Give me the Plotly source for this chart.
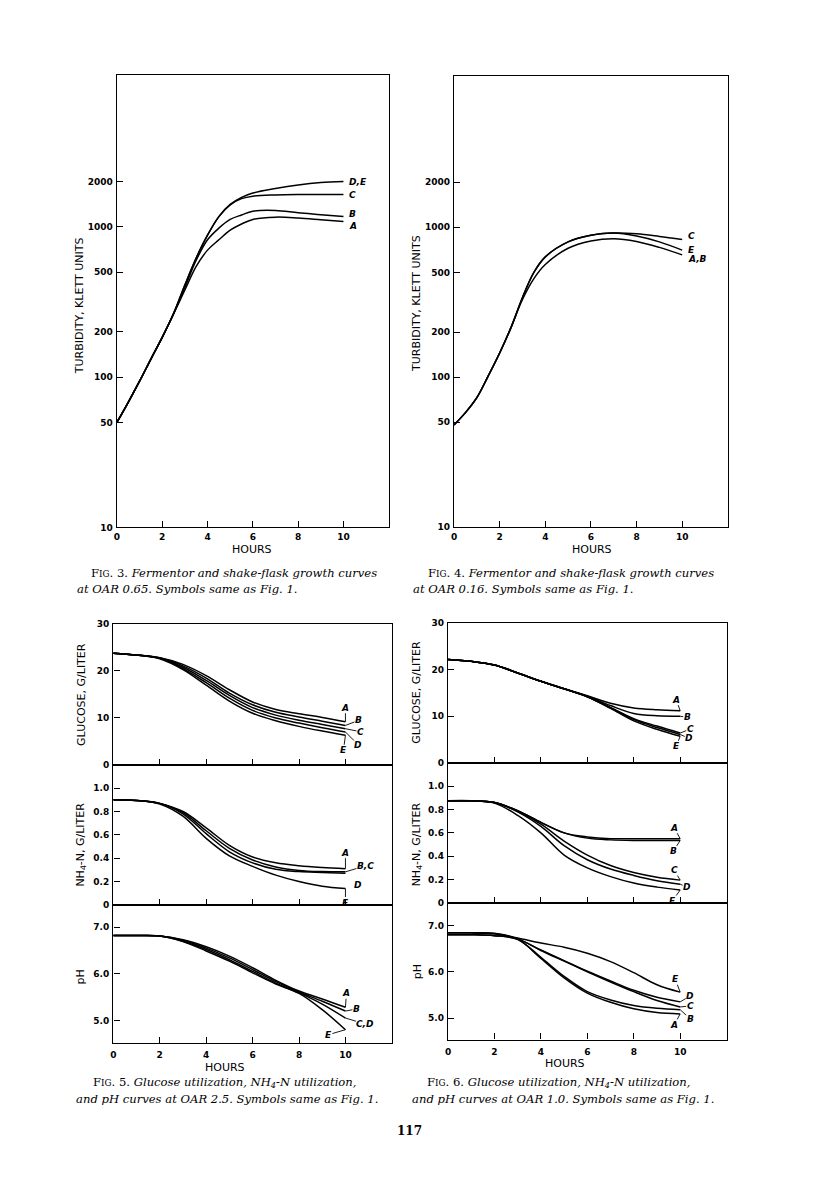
import math
import plotly.graph_objects as go

W, H = 816, 1193
OX, OY = 8, 8           # default body margin of the html page
FW, FH = W - 2 * OX, H - 2 * OY

# ---------------- data ----------------
# Fig. 3 turbidity (Klett units), OAR 0.65
f3_hours = [0, 0.5, 1, 1.5, 2, 2.5, 3, 3.5, 4, 4.5, 5, 5.5, 6, 7, 8, 9, 10]
f3_A = [50, 68, 94, 132, 184, 263, 380, 545, 700, 820, 950, 1045, 1120, 1160, 1145, 1115, 1085]
f3_B = [50, 68, 94, 132, 184, 263, 395, 600, 820, 980, 1120, 1200, 1270, 1285, 1240, 1205, 1170]
f3_C = [50, 68, 94, 132, 184, 265, 410, 620, 880, 1170, 1400, 1540, 1600, 1630, 1640, 1640, 1640]
f3_DE = [50, 68, 94, 132, 184, 265, 410, 620, 880, 1170, 1410, 1570, 1680, 1800, 1900, 1970, 2000]

# Fig. 4 turbidity, OAR 0.16
f4_hours = [0, 0.5, 1, 1.5, 2, 2.5, 3, 3.5, 4, 5, 6, 7, 8, 9, 10]
f4_C = [48, 58, 73, 102, 145, 215, 340, 500, 635, 800, 885, 915, 905, 870, 830]
f4_E = [48, 58, 73, 102, 145, 215, 340, 500, 635, 800, 885, 915, 875, 800, 705]
f4_AB = [48, 58, 73, 102, 145, 215, 330, 455, 565, 725, 810, 840, 805, 735, 655]

hours = [0, 1, 2, 3, 4, 5, 6, 7, 8, 9, 10]

# Fig. 5 (OAR 2.5)
f5_glu_A = [23.8, 23.4, 22.8, 21.4, 19.0, 16.0, 13.4, 11.8, 10.9, 10.1, 9.2]
f5_glu_B = [23.8, 23.4, 22.8, 21.1, 18.5, 15.3, 12.8, 11.2, 10.2, 9.3, 8.4]
f5_glu_C = [23.8, 23.4, 22.7, 20.8, 18.0, 14.8, 12.2, 10.6, 9.5, 8.6, 7.7]
f5_glu_D = [23.8, 23.4, 22.7, 20.5, 17.5, 14.2, 11.6, 10.0, 8.9, 7.9, 7.0]
f5_glu_E = [23.8, 23.4, 22.6, 20.3, 17.0, 13.6, 11.0, 9.4, 8.2, 7.2, 6.3]

f5_nh4_A = [0.90, 0.895, 0.87, 0.80, 0.66, 0.51, 0.41, 0.36, 0.335, 0.32, 0.31]
f5_nh4_BC = [0.90, 0.895, 0.87, 0.79, 0.635, 0.485, 0.385, 0.325, 0.295, 0.285, 0.283]
f5_nh4_D = [0.90, 0.895, 0.87, 0.78, 0.61, 0.455, 0.36, 0.305, 0.285, 0.278, 0.272]
f5_nh4_E = [0.90, 0.895, 0.865, 0.76, 0.57, 0.42, 0.33, 0.255, 0.20, 0.16, 0.14]

f5_ph_A = [6.82, 6.82, 6.81, 6.73, 6.58, 6.38, 6.13, 5.86, 5.63, 5.46, 5.28]
f5_ph_B = [6.82, 6.82, 6.81, 6.72, 6.55, 6.34, 6.09, 5.83, 5.61, 5.41, 5.20]
f5_ph_CD = [6.82, 6.82, 6.81, 6.70, 6.52, 6.30, 6.05, 5.80, 5.59, 5.35, 5.05]
f5_ph_E = [6.82, 6.82, 6.81, 6.69, 6.49, 6.27, 6.02, 5.78, 5.58, 5.23, 4.80]

# Fig. 6 (OAR 1.0)
f6_glu_A = [22.2, 21.8, 21.0, 19.3, 17.5, 15.9, 14.4, 12.8, 11.8, 11.4, 11.2]
f6_glu_B = [22.2, 21.8, 21.0, 19.3, 17.5, 15.9, 14.3, 12.3, 10.6, 10.1, 10.0]
f6_glu_C = [22.2, 21.8, 21.0, 19.3, 17.5, 15.9, 14.2, 11.9, 9.5, 7.9, 6.4]
f6_glu_D = [22.2, 21.8, 21.0, 19.3, 17.5, 15.9, 14.2, 11.8, 9.3, 7.6, 6.1]
f6_glu_E = [22.2, 21.8, 21.0, 19.3, 17.5, 15.9, 14.2, 11.7, 9.0, 7.2, 5.7]

f6_nh4_A = [0.875, 0.875, 0.86, 0.79, 0.69, 0.60, 0.565, 0.55, 0.55, 0.55, 0.55]
f6_nh4_B = [0.875, 0.875, 0.86, 0.79, 0.69, 0.60, 0.555, 0.54, 0.535, 0.535, 0.535]
f6_nh4_C = [0.875, 0.875, 0.86, 0.785, 0.675, 0.53, 0.41, 0.32, 0.26, 0.22, 0.195]
f6_nh4_D = [0.875, 0.875, 0.86, 0.78, 0.655, 0.49, 0.37, 0.29, 0.235, 0.19, 0.16]
f6_nh4_E = [0.875, 0.875, 0.855, 0.75, 0.60, 0.41, 0.30, 0.225, 0.17, 0.135, 0.11]

f6_ph_A = [6.80, 6.80, 6.78, 6.70, 6.29, 5.87, 5.54, 5.34, 5.20, 5.12, 5.09]
f6_ph_B = [6.80, 6.80, 6.78, 6.70, 6.31, 5.90, 5.57, 5.39, 5.27, 5.21, 5.18]
f6_ph_C = [6.84, 6.84, 6.82, 6.71, 6.46, 6.23, 6.00, 5.78, 5.57, 5.38, 5.24]
f6_ph_D = [6.84, 6.84, 6.82, 6.71, 6.47, 6.24, 6.01, 5.80, 5.60, 5.45, 5.35]
f6_ph_E = [6.84, 6.84, 6.83, 6.73, 6.62, 6.53, 6.40, 6.22, 5.98, 5.72, 5.56]

turb_ticks = [10, 50, 100, 200, 500, 1000, 2000]
turb_labels = ["10", "50", "100", "200", "500", "1000", "2000"]
glu_ticks = [0, 10, 20, 30]
nh4_ticks = [0, 0.2, 0.4, 0.6, 0.8, 1.0]
nh4_labels = ["0", "0.2", "0.4", "0.6", "0.8", "1.0"]
ph_ticks = [5.0, 6.0, 7.0]
ph_labels = ["5.0", "6.0", "7.0"]
hour_ticks = [0, 2, 4, 6, 8, 10]
hour_labels = ["0", "2", "4", "6", "8", "10"]

# ---------------- layout helpers ----------------
def xd(l, r):
    return [(l - OX) / FW, (r - OX) / FW]

def yd(top, bottom):
    return [1 - (bottom - OY) / FH, 1 - (top - OY) / FH]

TICKFONT = dict(family="DejaVu Sans", size=9, color="black", weight="bold")

def axis_base():
    return dict(showline=True, linecolor="black", linewidth=1.4, mirror=True,
                ticks="inside", ticklen=6, tickwidth=1.3, tickcolor="black",
                showgrid=False, zeroline=False, tickfont=TICKFONT, fixedrange=True)

fig = go.Figure()
layout = dict(width=FW, height=FH, margin=dict(l=0, r=0, t=0, b=0, pad=0),
              paper_bgcolor="white", plot_bgcolor="white", showlegend=False)

panels = {
    1: (xd(114.3, 387.2), yd(70.7, 526.9), [1, 4.009], "log", turb_ticks, turb_labels, True, 1),
    2: (xd(452.7, 727.5), yd(71.7, 526.4), [1, 4.009], "log", turb_ticks, turb_labels, True, 1),
    3: (xd(110.7, 390.3), yd(624.3, 766.3), [0, 30], "linear", glu_ticks, [str(v) for v in glu_ticks], False, 0),
    4: (xd(110.7, 390.3), yd(766.3, 907.5), [0, 1.2], "linear", nh4_ticks, nh4_labels, False, 0),
    5: (xd(110.7, 390.3), yd(907.5, 1046.7), [4.517, 7.479], "linear", ph_ticks, ph_labels, True, 3),
    6: (xd(446.7, 726.3), yd(623.3, 764.3), [0, 30], "linear", glu_ticks, [str(v) for v in glu_ticks], False, 0),
    7: (xd(446.7, 726.3), yd(764.3, 905.5), [0, 1.2], "linear", nh4_ticks, nh4_labels, False, 0),
    8: (xd(446.7, 726.3), yd(905.5, 1043.3), [4.537, 7.488], "linear", ph_ticks, ph_labels, True, 3),
}

for i, (xdom, ydom, yr, ytype, yt, yl, showx, xstand) in panels.items():
    sx = "" if i == 1 else str(i)
    xa = axis_base()
    xa.update(domain=xdom, range=[0, 12], anchor="y" + sx,
              tickvals=hour_ticks if showx else hour_ticks[1:],
              ticktext=hour_labels if showx else hour_labels[1:],
              showticklabels=showx, ticklabelstandoff=xstand)
    ya = axis_base()
    ya.update(domain=ydom, range=yr, type=ytype, anchor="x" + sx,
              tickvals=yt, ticktext=yl, ticklabelstandoff=1)
    layout["xaxis" + sx] = xa
    layout["yaxis" + sx] = ya

fig.update_layout(**layout)

def add_line(i, xs, ys):
    sx = "" if i == 1 else str(i)
    fig.add_trace(go.Scatter(x=xs, y=ys, mode="lines",
                             line=dict(color="black", width=1.5, shape="spline", smoothing=1.0),
                             xaxis="x" + sx, yaxis="y" + sx, hoverinfo="skip", showlegend=False))

for ys in (f3_A, f3_B, f3_C, f3_DE):
    add_line(1, f3_hours, ys)
for ys in (f4_C, f4_E, f4_AB):
    add_line(2, f4_hours, ys)
for ys in (f5_glu_A, f5_glu_B, f5_glu_C, f5_glu_D, f5_glu_E):
    add_line(3, hours, ys)
for ys in (f5_nh4_A, f5_nh4_BC, f5_nh4_D, f5_nh4_E):
    add_line(4, hours, ys)
for ys in (f5_ph_A, f5_ph_B, f5_ph_CD, f5_ph_E):
    add_line(5, hours, ys)
for ys in (f6_glu_A, f6_glu_B, f6_glu_C, f6_glu_D, f6_glu_E):
    add_line(6, hours, ys)
for ys in (f6_nh4_A, f6_nh4_B, f6_nh4_C, f6_nh4_D, f6_nh4_E):
    add_line(7, hours, ys)
for ys in (f6_ph_A, f6_ph_B, f6_ph_C, f6_ph_D, f6_ph_E):
    add_line(8, hours, ys)

LABFONT = dict(family="DejaVu Sans", size=9, color="black", weight="bold")

def end_label(i, text, yval, dx=0, dy=0, arrow=True, xval=10):
    sx = "" if i == 1 else str(i)
    if arrow:
        fig.add_annotation(x=xval, y=yval, xref="x" + sx, yref="y" + sx, text="<i>%s</i>" % text,
                           showarrow=True, arrowhead=0, arrowwidth=0.9, arrowcolor="black",
                           ax=dx, ay=dy, standoff=0, startstandoff=0, borderpad=0, font=LABFONT)
    else:
        fig.add_annotation(x=xval, y=yval, xref="x" + sx, yref="y" + sx, text="<i>%s</i>" % text,
                           showarrow=False, xanchor="left", xshift=4 + dx, yshift=-dy, font=LABFONT)

# Fig 3 labels (log axis: annotation y given as log10)
end_label(1, "D,E", math.log10(f3_DE[-1]), arrow=False)
end_label(1, "C", math.log10(f3_C[-1]), arrow=False)
end_label(1, "B", math.log10(f3_B[-1]), dy=-3, arrow=False)
end_label(1, "A", math.log10(f3_A[-1]), dy=4, arrow=False)
# Fig 4
end_label(2, "C", math.log10(f4_C[-1]), dy=-3, arrow=False)
end_label(2, "E", math.log10(f4_E[-1]), dy=0, arrow=False)
end_label(2, "A,B", math.log10(f4_AB[-1]), dy=4, arrow=False)
# Fig 5 glucose
end_label(3, "A", f5_glu_A[-1], 0, -14)
end_label(3, "B", f5_glu_B[-1], 13, -5)
end_label(3, "C", f5_glu_C[-1], 15, 3)
end_label(3, "D", f5_glu_D[-1], 13, 13)
end_label(3, "E", f5_glu_E[-1], -2, 15)
# Fig 5 NH4
end_label(4, "A", f5_nh4_A[-1], 0, -16)
end_label(4, "B,C", f5_nh4_BC[-1], 20, -6)
end_label(4, "D", f5_nh4_D[-1], 13, 12)
end_label(4, "E", f5_nh4_E[-1], 0, 14)
# Fig 5 pH
end_label(5, "A", f5_ph_A[-1], 1, -14)
end_label(5, "B", f5_ph_B[-1], 11, -2)
end_label(5, "C,D", f5_ph_CD[-1], 20, 6)
end_label(5, "E", f5_ph_E[-1], -17, 5)
# Fig 6 glucose
end_label(6, "A", f6_glu_A[-1], -4, -11)
end_label(6, "B", f6_glu_B[-1], 7, 1)
end_label(6, "C", f6_glu_C[-1], 10, -4)
end_label(6, "D", f6_glu_D[-1], 9, 4)
end_label(6, "E", f6_glu_E[-1], -4, 10)
# Fig 6 NH4
end_label(7, "A", f6_nh4_A[-1], -6, -11)
end_label(7, "B", f6_nh4_B[-1], -7, 11)
end_label(7, "C", f6_nh4_C[-1], -6, -10)
end_label(7, "D", f6_nh4_D[-1], 7, 3)
end_label(7, "E", f6_nh4_E[-1], -8, 11)
# Fig 6 pH
end_label(8, "E", f6_ph_E[-1], -5, -13)
end_label(8, "D", f6_ph_D[-1], 10, -6)
end_label(8, "C", f6_ph_C[-1], 10, -1)
end_label(8, "B", f6_ph_B[-1], 10, 9)
end_label(8, "A", f6_ph_A[-1], -6, 11)

# ---------------- axis titles ----------------
TITLEFONT = dict(family="DejaVu Sans", size=11, color="black")

def paper_text(px, py, text, angle=0, font=TITLEFONT, xanchor="center"):
    fig.add_annotation(x=(px - OX) / FW, y=1 - (py - OY) / FH, xref="paper", yref="paper", text=text,
                       showarrow=False, textangle=angle, xanchor=xanchor, yanchor="middle",
                       font=font)

paper_text(77, 303, "TURBIDITY, KLETT UNITS", -90)
paper_text(415, 301, "TURBIDITY, KLETT UNITS", -90)
paper_text(250, 549, "HOURS")
paper_text(591, 549, "HOURS")

paper_text(78, 695, "GLUCOSE, G/LITER", -90)
paper_text(78, 847, "NH<sub>4</sub>-N, G/LITER", -90)
paper_text(78, 980, "pH", -90)
paper_text(223, 1072, "HOURS")

paper_text(415, 693, "GLUCOSE, G/LITER", -90)
paper_text(415, 846, "NH<sub>4</sub>-N, G/LITER", -90)
paper_text(416, 975, "pH", -90)
paper_text(564, 1068, "HOURS")

# ---------------- captions ----------------
CAP = dict(family="DejaVu Serif", size=11.6, color="black")
SC = '<span style="font-size:8.8px">IG</span>'

paper_text(86, 573, "F" + SC + ". 3. <i>Fermentor and shake-flask growth curves</i>", font=CAP, xanchor="left")
paper_text(72, 589, "<i>at OAR 0.65. Symbols same as Fig. 1.</i>", font=CAP, xanchor="left")
paper_text(425, 573, "F" + SC + ". 4. <i>Fermentor and shake-flask growth curves</i>", font=CAP, xanchor="left")
paper_text(410, 589, "<i>at OAR 0.16. Symbols same as Fig. 1.</i>", font=CAP, xanchor="left")

paper_text(88, 1087, "F" + SC + ". 5. <i>Glucose utilization, NH<sub>4</sub>-N utilization,</i>", font=CAP, xanchor="left")
paper_text(71, 1103, "<i>and pH curves at OAR 2.5. Symbols same as Fig. 1.</i>", font=CAP, xanchor="left")
paper_text(424, 1087, "F" + SC + ". 6. <i>Glucose utilization, NH<sub>4</sub>-N utilization,</i>", font=CAP, xanchor="left")
paper_text(409, 1103, "<i>and pH curves at OAR 1.0. Symbols same as Fig. 1.</i>", font=CAP, xanchor="left")

paper_text(408, 1136, "<b>117</b>", font=dict(family="DejaVu Serif", size=12, color="black"))

fig.write_html("out.html")
